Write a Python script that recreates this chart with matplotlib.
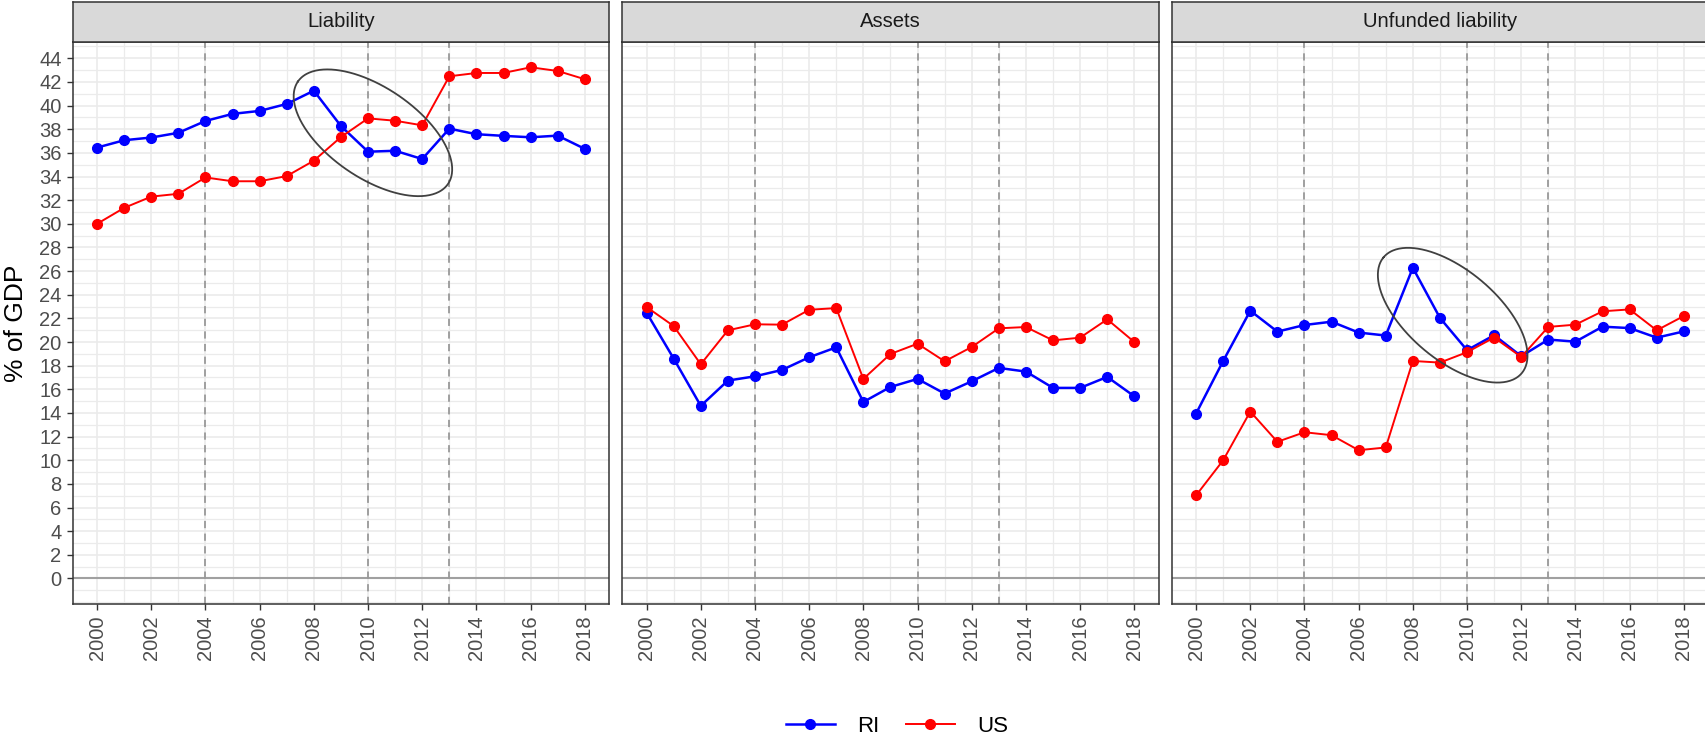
import numpy as np
import matplotlib
matplotlib.use('Agg')
import matplotlib.pyplot as plt
from matplotlib.ticker import MultipleLocator

plt.rcParams['font.family'] = ['Liberation Sans', 'DejaVu Sans']

# data (% of GDP)
years = list(range(2000, 2019))
panels = ['Liability', 'Assets', 'Unfunded liability']
y_ticks = list(range(0, 45, 2))

liab_ri = [36.45, 37.07, 37.3, 37.7, 38.7, 39.3, 39.55, 40.14, 41.26, 38.27,
           36.1, 36.18, 35.48, 38.05, 37.58, 37.44, 37.32, 37.46, 36.34]
liab_us = [30.0, 31.35, 32.3, 32.54, 33.92, 33.6, 33.6, 34.04, 35.34, 37.34,
           38.92, 38.72, 38.33, 42.48, 42.76, 42.76, 43.24, 42.93, 42.23]
assets_ri = [22.48, 18.6, 14.6, 16.74, 17.1, 17.64, 18.71, 19.55, 14.93, 16.2,
             16.88, 15.64, 16.68, 17.81, 17.5, 16.12, 16.12, 17.05, 15.41]
assets_us = [22.96, 21.35, 18.12, 20.99, 21.5, 21.47, 22.73, 22.87, 16.88, 18.99,
             19.86, 18.37, 19.58, 21.16, 21.27, 20.14, 20.37, 21.92, 20.0]
unf_ri = [13.95, 18.4, 22.65, 20.88, 21.44, 21.72, 20.8, 20.55, 26.28, 22.04,
          19.31, 20.58, 18.8, 20.21, 20.03, 21.3, 21.18, 20.37, 20.9]
unf_us = [7.03, 10.0, 14.12, 11.56, 12.37, 12.12, 10.85, 11.08, 18.4, 18.26,
          19.14, 20.38, 18.74, 21.28, 21.47, 22.6, 22.76, 20.99, 22.2]

ri_series = [liab_ri, assets_ri, unf_ri]
us_series = [liab_us, assets_us, unf_us]

event_years = [2004, 2010, 2013]

# highlight ellipses: (panel, centre, major semi-axis vector, minor semi-axis vector) in data units
ellipses = [
    (0, (2010.18, 37.7), (-2.77, 4.33), (0.94, 3.16)),
    (2, (2009.47, 22.27), (-2.55, 4.9), (1.06, 2.91)),
]

W, H = 1705, 737
fig = plt.figure(figsize=(W / 100, H / 100), dpi=100)

lefts = [72.7, 622.2, 1171.7]
pw = 536.5
top_px, bot_px = 42, 604
strip_top = 1.7

axes = []
for i, name in enumerate(panels):
    ax = fig.add_axes([lefts[i] / W, 1 - bot_px / H, pw / W, (bot_px - top_px) / H])
    ax.set_xlim(1999.1, 2018.9)
    ax.set_ylim(-2.16, 45.38)
    ax.xaxis.set_major_locator(MultipleLocator(2))
    ax.xaxis.set_minor_locator(MultipleLocator(1))
    ax.set_yticks(y_ticks)
    ax.yaxis.set_minor_locator(MultipleLocator(1))
    ax.grid(which='major', color='#EBEBEB', lw=1.2, zorder=0)
    ax.grid(which='minor', color='#EBEBEB', lw=0.9, zorder=0)
    ax.set_axisbelow(True)
    for s in ax.spines.values():
        s.set_color('#333333')
        s.set_linewidth(1.1)
    ax.tick_params(which='minor', length=0)
    ax.tick_params(which='major', length=4, width=1.0, color='#333333',
                   labelcolor='#4D4D4D', labelsize=14.5, pad=4)
    ax.tick_params(axis='x', labelrotation=90)
    if i > 0:
        ax.tick_params(axis='y', left=False, labelleft=False)

    ax.axhline(0, color='#A0A0A0', lw=1.5, zorder=1)
    for yr in event_years:
        ax.axvline(yr, color='#999999', lw=1.3, dashes=(4, 3), zorder=1)

    l_ri, = ax.plot(years, ri_series[i], color='#0000FF', lw=1.8, marker='o',
                    ms=7, zorder=3, label='RI')
    l_us, = ax.plot(years, us_series[i], color='#FF0000', lw=1.4, marker='o',
                    ms=7, zorder=3, label='US')

    # strip
    sax = fig.add_axes([lefts[i] / W, 1 - top_px / H, pw / W, (top_px - strip_top) / H])
    sax.set_facecolor('#D9D9D9')
    sax.set_xticks([])
    sax.set_yticks([])
    for s in sax.spines.values():
        s.set_color('#333333')
        s.set_linewidth(1.1)
    sax.text(0.5, 0.5, name, ha='center', va='center', fontsize=14.6,
             color='#1A1A1A', transform=sax.transAxes)
    axes.append(ax)

t = np.linspace(0, 2 * np.pi, 300)
for idx, (cx, cy), (ux, uy), (vx, vy) in ellipses:
    ex = cx + ux * np.cos(t) + vx * np.sin(t)
    ey = cy + uy * np.cos(t) + vy * np.sin(t)
    axes[idx].plot(ex, ey, color='#404040', lw=1.3, zorder=4)

fig.text(16 / W, 1 - 323 / H, '% of GDP', rotation=90, ha='center', va='center',
         fontsize=19, color='black')

fig.legend(handles=[l_ri, l_us], loc='center', bbox_to_anchor=(897 / W, 1 - 726 / H),
           ncol=2, frameon=False, fontsize=16, handlelength=2.2, handletextpad=1.0,
           columnspacing=1.2)

fig.savefig('out.png', dpi=100)
